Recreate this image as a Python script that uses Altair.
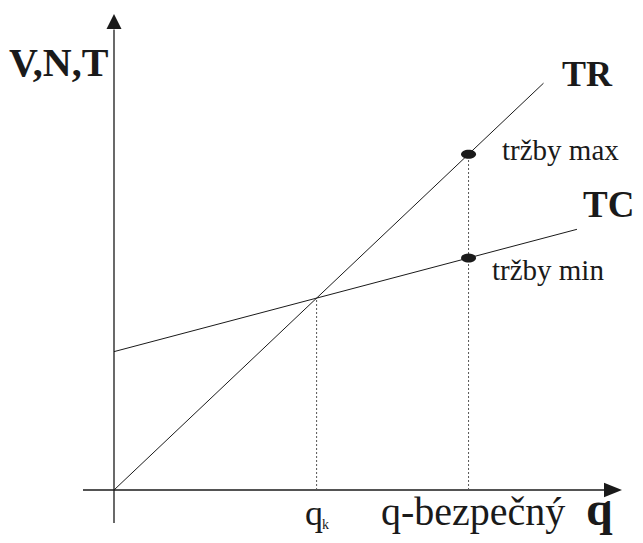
import altair as alt
import pandas as pd

# ---- data (economic units) ----
q_marks = [20, 35]                 # q_k (break-even), q-bezpečný
tr_q = [0, 42.4]                   # TR line endpoints
tr_v = [0, 40.28]
tc_q = [0, 45.7]                   # TC line endpoints
tc_v = [13.7, 25.81]
pt_q = [35, 35]                    # revenue points
pt_v = [33.25, 22.98]
drop_top = [19.0, 33.25]           # where the dotted drops start
axis_x_span = [-3.06, 48.4]
axis_y_span = [-3.27, 45.6]
arrow_x = [49.26]
arrow_y = [46.39]

XS = alt.Scale(domain=[-10.464, 51.431], nice=False, zero=False)
YS = alt.Scale(domain=[-4.455, 47.723], nice=False, zero=False)
INK = "#1a1a1a"
FONT = "Liberation Serif"


def X(f):
    return alt.X(f, type="quantitative", scale=XS, axis=None)


def Y(f):
    return alt.Y(f, type="quantitative", scale=YS, axis=None)


# axes
xaxis = alt.Chart(pd.DataFrame({"a": [axis_x_span[0]], "b": [axis_x_span[1]], "y": [0]})).mark_rule(
    color=INK, strokeWidth=1.3).encode(x=X("a"), x2="b", y=Y("y"))
yaxis = alt.Chart(pd.DataFrame({"a": [axis_y_span[0]], "b": [axis_y_span[1]], "x": [0]})).mark_rule(
    color=INK, strokeWidth=1.3).encode(y=Y("a"), y2="b", x=X("x"))
arr_r = alt.Chart(pd.DataFrame({"x": arrow_x, "y": [0]})).mark_point(
    shape="M1,0L-1,-0.8L-1,0.8Z", filled=True, color=INK, opacity=1, size=324).encode(x=X("x"), y=Y("y"))
arr_u = alt.Chart(pd.DataFrame({"x": [0], "y": arrow_y})).mark_point(
    shape="M0,-1L1,1L-1,1Z", filled=True, color=INK, opacity=1, size=225).encode(x=X("x"), y=Y("y"))

# lines
tr = alt.Chart(pd.DataFrame({"q": tr_q, "v": tr_v})).mark_line(color=INK, strokeWidth=1).encode(
    x=X("q"), y=Y("v"))
tc = alt.Chart(pd.DataFrame({"q": tc_q, "v": tc_v})).mark_line(color=INK, strokeWidth=1).encode(
    x=X("q"), y=Y("v"))

drops = alt.Chart(pd.DataFrame({"q": q_marks, "top": drop_top, "bot": [0, 0]})).mark_rule(
    color="#555555", strokeWidth=1, strokeDash=[2, 2]).encode(x=X("q"), y=Y("bot"), y2="top")

pts = alt.Chart(pd.DataFrame({"q": pt_q, "v": pt_v})).mark_point(
    shape="M-1,0A1,0.6,0,1,1,1,0A1,0.6,0,1,1,-1,0Z", filled=True, color=INK, opacity=1,
    size=225).encode(x=X("q"), y=Y("v"))


def label(text, x, y, size, bold=False):
    return alt.Chart(pd.DataFrame({"t": [text], "x": [x], "y": [y]})).mark_text(
        align="left", baseline="alphabetic", font=FONT, fontSize=size,
        fontWeight="bold" if bold else "normal", color=INK).encode(
        x=X("x"), y=Y("y"), text="t:N")


labels = [
    label("V,N,T", -10.36, 40.99, 40, True),
    label("TR", 44.23, 40.0, 36, True),
    label("TC", 46.30, 27.03, 37, True),
    label("tržby max", 38.30, 32.67, 29),
    label("tržby min", 37.31, 20.79, 29),
    label("q", 18.85, -3.47, 36),
    label("k", 20.53, -3.86, 14),
    label("q-bezpečný", 26.36, -3.47, 40),
    label("q", 46.59, -3.47, 48, True),
]

chart = alt.layer(xaxis, yaxis, arr_r, arr_u, tr, tc, drops, pts, *labels).properties(
    width=627, height=527, padding=0, autosize=alt.AutoSizeParams(type="none"),
    background="white").configure_view(stroke=None)

chart.save("out.html", embed_options={"renderer": "svg", "actions": False})
